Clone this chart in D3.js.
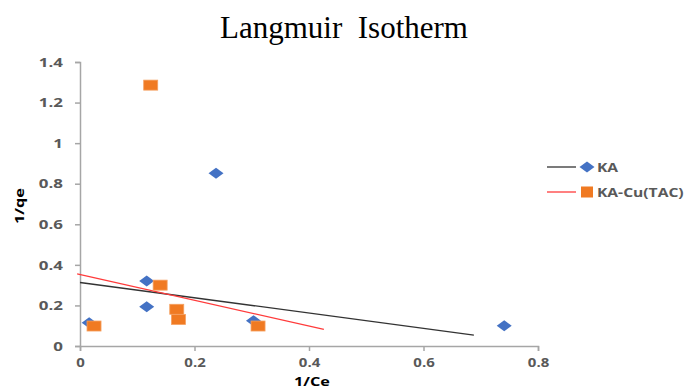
<!DOCTYPE html>
<html><head><meta charset="utf-8">
<script src="https://cdn.jsdelivr.net/npm/d3@7"></script>
<style>body{margin:0;background:#fff}svg{display:block}</style>
</head><body>
<script>
const xTicks = [0, 0.2, 0.4, 0.6, 0.8];
const yTicks = [0, 0.2, 0.4, 0.6, 0.8, 1, 1.2, 1.4];
const kaX = [0.016, 0.1165, 0.1165, 0.2376, 0.303, 0.741];
const kaY = [0.115, 0.32, 0.194, 0.851, 0.125, 0.1];
const cuX = [0.0245, 0.1235, 0.14, 0.169, 0.172, 0.311];
const cuY = [0.0985, 1.286, 0.30, 0.181, 0.131, 0.0985];
const kaTrendX = [0, 0.688];
const kaTrendY = [0.313, 0.054];
const cuTrendX = [-0.005, 0.426];
const cuTrendY = [0.356, 0.082];
const seriesNames = ["KA", "KA-Cu(TAC)"];

const W = 688, H = 391;
const svg = d3.select("body").append("svg").attr("width", W).attr("height", H);
const x = d3.scaleLinear().domain([0, 0.8]).range([80, 538]);
const y = d3.scaleLinear().domain([0, 1.4]).range([346, 62]);

function stretch(sel, k) {
  sel.each(function () {
    const len = this.getComputedTextLength();
    d3.select(this).attr("textLength", len * k).attr("lengthAdjust", "spacingAndGlyphs");
  });
}

svg.append("text").attr("x", 344).attr("y", 38).attr("text-anchor", "middle")
  .attr("font-family", "Liberation Serif, Times New Roman, serif").attr("font-size", 31)
  .attr("fill", "#000").style("white-space", "pre").text("Langmuir  Isotherm");

const axisColor = "#a6a6a6";
const tickFont = "Open Sans, DejaVu Sans, sans-serif";
const gx = svg.append("g").attr("transform", "translate(0,346)")
  .call(d3.axisBottom(x).tickValues(xTicks).tickFormat(d => d).tickSizeOuter(0).tickSize(5).tickPadding(7));
const gy = svg.append("g").attr("transform", "translate(80,0)")
  .call(d3.axisLeft(y).tickValues(yTicks).tickFormat(d => d).tickSizeOuter(0).tickSize(5).tickPadding(12));
[gx, gy].forEach(g => {
  g.select(".domain").attr("stroke", axisColor).attr("stroke-width", 1.5);
  g.selectAll(".tick line").attr("stroke", axisColor).attr("stroke-width", 1.5);
  g.selectAll(".tick text").attr("fill", "#595959").attr("font-family", tickFont)
    .attr("font-size", 13).attr("font-weight", "bold");
});
stretch(gx.selectAll(".tick text"), 1.15);
stretch(gy.selectAll(".tick text"), 1.3);

const xt = svg.append("text").attr("x", 312).attr("y", 386).attr("text-anchor", "middle")
  .attr("font-family", tickFont).attr("font-size", 12.5).attr("font-weight", "bold").text("1/Ce");
stretch(xt, 1.3);
const yt = svg.append("text").attr("transform", "translate(24,206) rotate(-90)").attr("text-anchor", "middle")
  .attr("font-family", tickFont).attr("font-size", 13).attr("font-weight", "bold").text("1/qe");
stretch(yt, 1.25);

const line = d3.line().x(d => x(d[0])).y(d => y(d[1]));
svg.append("path").datum(kaTrendX.map((v, i) => [v, kaTrendY[i]])).attr("d", line)
  .attr("stroke", "#333").attr("stroke-width", 1.3).attr("fill", "none");
svg.append("path").datum(cuTrendX.map((v, i) => [v, cuTrendY[i]])).attr("d", line)
  .attr("stroke", "#ff3b3b").attr("stroke-width", 1.3).attr("fill", "none");

const blue = "#4472c4", orange = "#f07a22";
const diamond = (cx, cy) => `M${cx - 7.5},${cy} L${cx},${cy - 5.5} L${cx + 7.5},${cy} L${cx},${cy + 5.5} Z`;
svg.append("g").selectAll("path").data(kaX.map((v, i) => [v, kaY[i]])).join("path")
  .attr("d", d => diamond(x(d[0]), y(d[1]))).attr("fill", blue);
svg.append("g").selectAll("rect").data(cuX.map((v, i) => [v, cuY[i]])).join("rect")
  .attr("x", d => x(d[0]) - 7).attr("y", d => y(d[1]) - 5).attr("width", 14).attr("height", 10)
  .attr("fill", orange).attr("stroke", "#f5a060").attr("stroke-width", 0.8);

// legend
const lg = svg.append("g");
const legY = [167, 192];
const legLine = ["#333", "#ff3b3b"];
seriesNames.forEach((n, i) => {
  lg.append("line").attr("x1", 547).attr("x2", 576).attr("y1", legY[i]).attr("y2", legY[i])
    .attr("stroke", legLine[i]).attr("stroke-width", 1.3);
  if (i === 0) lg.append("path").attr("d", diamond(587, legY[i])).attr("fill", blue);
  else lg.append("rect").attr("x", 581).attr("y", legY[i] - 5.5).attr("width", 12).attr("height", 11).attr("fill", orange);
  const t = lg.append("text").attr("x", 597).attr("y", legY[i] + 4.5).attr("font-family", tickFont)
    .attr("font-size", 13).attr("font-weight", "bold").attr("fill", "#595959").text(n);
  stretch(t, 1.2);
});
</script>
</body></html>
